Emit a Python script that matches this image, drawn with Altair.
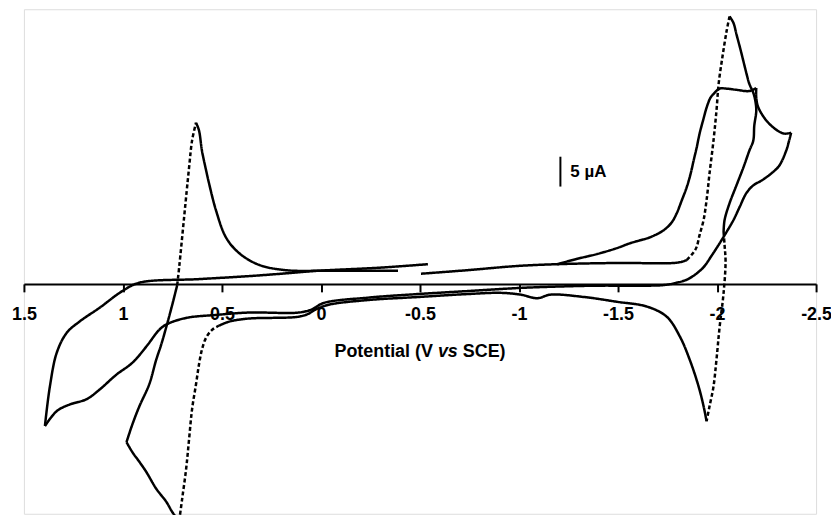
import altair as alt
import pandas as pd

# ---- values: potential E (V vs SCE) and current I (µA) ----
# big anodic/cathodic couple near +0.7 V
decay_E = [0.631, 0.616, 0.601, 0.580, 0.565, 0.530, 0.480, 0.415, 0.314, 0.178, -0.038, -0.389]
decay_I = [27.0, 25.7, 22.3, 19.0, 16.8, 12.3, 7.8, 5.2, 3.2, 2.3, 2.2, 2.2]

rise_E = [0.726, 0.716, 0.691, 0.666, 0.651, 0.631]
rise_I = [-0.2, 2.8, 11.2, 19.5, 24.0, 27.0]

downA_E = [0.726, 0.751, 0.781, 0.807, 0.832, 0.867, 0.917, 0.952, 0.982]
downA_I = [-0.2, -3.5, -7.2, -10.2, -12.7, -16.8, -20.5, -23.5, -26.5]

downB_E = [0.982, 0.952, 0.917, 0.882, 0.832, 0.781, 0.751, 0.726, 0.716]
downB_I = [-26.5, -28.2, -29.8, -31.5, -34.3, -36.5, -38.2, -39.3, -39.7]

valley1_E = [0.716, 0.701, 0.681, 0.666, 0.651, 0.631, 0.616, 0.601, 0.580, 0.550, 0.515]
valley1_I = [-39.7, -36.0, -31.0, -26.0, -21.0, -16.8, -13.5, -11.0, -9.0, -7.7, -7.0]

lower_E = [0.515, 0.480, 0.450, 0.364, 0.113, 0.063, 0.028, -0.038, -0.239, -0.490, -0.741,
           -0.907, -1.008, -1.093, -1.158, -1.329, -1.495, -1.646, -1.746, -1.812, -1.862,
           -1.907, -1.932, -1.947]
lower_I = [-7.0, -6.5, -6.2, -5.8, -5.5, -5.0, -4.3, -3.5, -2.7, -2.2, -1.7,
           -1.5, -1.8, -2.4, -1.8, -2.2, -3.0, -3.8, -5.5, -8.8, -12.7,
           -17.2, -20.5, -23.0]

# couple near -2 V
valley2_E = [-2.033, -2.038, -2.043, -2.033, -2.013, -1.997, -1.982, -1.962, -1.947]
valley2_I = [8.7, 6.5, 3.7, -1.5, -7.2, -12.7, -17.2, -20.5, -23.0]

peakback_E = [-2.063, -2.083, -2.098, -2.118, -2.133, -2.148, -2.163, -2.183, -2.193, -2.198,
              -2.188, -2.183, -2.163, -2.133, -2.098, -2.063, -2.038, -2.033]
peakback_I = [44.8, 43.7, 41.8, 39.3, 37.3, 35.3, 33.5, 32.0, 30.7, 29.0,
              26.5, 24.0, 22.3, 19.5, 16.5, 13.5, 10.7, 8.7]

peakrise_E = [-1.847, -1.882, -1.897, -1.912, -1.932, -1.947, -1.962, -1.982, -1.997, -2.008,
              -2.028, -2.048, -2.063]
peakrise_I = [4.0, 5.3, 6.2, 8.2, 10.7, 14.0, 18.5, 24.0, 29.0, 33.5, 38.2, 42.3, 44.8]

base_E = [-0.505, -0.741, -0.992, -1.193, -1.495, -1.781, -1.822, -1.847]
base_I = [1.7, 2.3, 3.0, 3.3, 3.5, 3.5, 3.7, 4.0]

plateau_E = [-1.193, -1.294, -1.394, -1.495, -1.560, -1.611, -1.661, -1.731, -1.771, -1.796,
             -1.822, -1.847, -1.867, -1.882, -1.897, -1.912, -1.932, -1.947, -1.967, -1.982,
             -2.013, -2.048, -2.098, -2.163, -2.198]
plateau_I = [3.3, 4.2, 5.0, 6.0, 6.8, 7.3, 7.8, 9.0, 10.3, 11.8,
             14.0, 16.2, 18.5, 20.7, 22.8, 25.2, 27.7, 29.5, 31.2, 31.8,
             32.7, 32.7, 32.5, 32.3, 32.8]

notch_E = [-2.198, -2.198, -2.209, -2.264, -2.334, -2.374]
notch_I = [32.8, 31.2, 29.5, 26.8, 25.2, 25.3]

loop_E = [-2.374, -2.364, -2.349, -2.314, -2.274, -2.224, -2.183, -2.148, -2.113, -2.083, -2.048,
          -2.013, -1.972, -1.932, -1.887, -1.847, -1.796, -1.731,
          -1.595, -1.394, -1.143, -0.992, -0.741, -0.490, -0.239, -0.013, 0.048, 0.113,
          0.364, 0.530, 0.681, 0.781, 0.817, 0.882, 0.952, 1.033, 1.118, 1.183, 1.269,
          1.334, 1.394]
loop_I = [25.3, 24.0, 22.3, 19.8, 18.5, 17.3, 16.5, 15.2, 12.8, 10.7, 8.7,
          6.8, 4.7, 2.8, 1.5, 0.7, 0.2, -0.2,
          -0.3, -0.3, -0.5, -0.7, -1.2, -1.7, -2.3, -3.2, -4.3, -4.8,
          -4.8, -5.2, -5.7, -6.8, -7.7, -10.5, -13.2, -15.2, -17.7, -19.3, -20.2,
          -21.3, -23.8]

left_E = [-0.540, -0.289, 0.013, 0.163, 0.364, 0.616, 0.917, 1.003, 1.118, 1.219, 1.284,
          1.334, 1.369, 1.394]
left_I = [3.3, 2.7, 2.2, 1.8, 1.3, 0.8, 0.2, -1.2, -4.0, -6.3, -8.2, -11.5, -17.2, -23.8]

tick_values = [1.5, 1, 0.5, 0, -0.5, -1, -1.5, -2, -2.5]

bar_E = [-1.209]
bar_lo = [16.3]
bar_hi = [21.3]
bar_text = ["5 µA"]
bar_text_E = [-1.259]
bar_text_I = [18.8]

title_parts = ["Potential (V", "vs", "SCE)"]

segments = [
    ("decay", "solid", decay_E, decay_I),
    ("rise", "dashed", rise_E, rise_I),
    ("downA", "solid", downA_E, downA_I),
    ("downB", "solid", downB_E, downB_I),
    ("valley1", "dashed", valley1_E, valley1_I),
    ("lower", "solid", lower_E, lower_I),
    ("valley2", "dashed", valley2_E, valley2_I),
    ("peakback", "solid", peakback_E, peakback_I),
    ("peakrise", "dashed", peakrise_E, peakrise_I),
    ("base", "solid", base_E, base_I),
    ("plateau", "solid", plateau_E, plateau_I),
    ("notch", "solid", notch_E, notch_I),
    ("loop", "solid", loop_E, loop_I),
    ("left", "solid", left_E, left_I),
]

rows = []
for name, style, es, cs in segments:
    for k, (e, c) in enumerate(zip(es, cs)):
        rows.append({"seg": name, "style": style, "k": k, "E": e, "I": c})
df = pd.DataFrame(rows)

FONT = "Liberation Sans"
x_scale = alt.Scale(domain=[-2.5, 1.5], reverse=True, nice=False, zero=False)
y_scale = alt.Scale(domain=[-38.5, 46], nice=False, zero=False)

lines = alt.Chart(df).mark_line(color="black", strokeWidth=2.5, strokeJoin="round",
                                interpolate="catmull-rom").encode(
    x=alt.X("E:Q", scale=x_scale, axis=alt.Axis(
        values=tick_values, orient="bottom", offset=-231, title=None, grid=False,
        domainColor="black", domainWidth=2, tickColor="black", tickWidth=2, tickSize=8,
        labelFont=FONT, labelFontSize=18, labelFontWeight="bold", labelColor="black",
        labelPadding=14, labelExpr="datum.value + ''", labelFlush=False, labelOverlap=False)),
    y=alt.Y("I:Q", scale=y_scale, axis=None),
    detail="seg:N",
    order="k:Q",
    strokeDash=alt.StrokeDash("style:N", scale=alt.Scale(domain=["solid", "dashed"],
                              range=[[1, 0], [4, 2.5]]), legend=None),
)

bar = alt.Chart(pd.DataFrame({"E": bar_E, "I": bar_lo, "I2": bar_hi})).mark_rule(
    color="black", strokeWidth=2).encode(x="E:Q", y="I:Q", y2="I2:Q")

bar_label = alt.Chart(pd.DataFrame({"E": bar_text_E, "I": bar_text_I, "t": bar_text})).mark_text(
    align="left", baseline="middle", font=FONT, fontSize=17, fontWeight="bold", color="black"
).encode(x="E:Q", y="I:Q", text="t:N")

TY = 344
t1 = alt.Chart(pd.DataFrame({"t": [title_parts[0]]})).mark_text(
    align="right", baseline="middle", font=FONT, fontSize=18, fontWeight="bold", color="black"
).encode(x=alt.value(411), y=alt.value(TY), text="t:N")
t2 = alt.Chart(pd.DataFrame({"t": [title_parts[1]]})).mark_text(
    align="left", baseline="middle", font=FONT, fontSize=18, fontWeight="bold",
    fontStyle="italic", color="black"
).encode(x=alt.value(416), y=alt.value(TY), text="t:N")
t3 = alt.Chart(pd.DataFrame({"t": [title_parts[2]]})).mark_text(
    align="left", baseline="middle", font=FONT, fontSize=18, fontWeight="bold", color="black"
).encode(x=alt.value(441), y=alt.value(TY), text="t:N")

chart = alt.layer(lines, bar, bar_label, t1, t2, t3).properties(
    width=796, height=507,
    autosize=alt.AutoSizeParams(type="none"),
    padding={"left": 16, "top": 0, "right": 15, "bottom": 0},
).configure_view(stroke=None).configure(background="white")

chart.save("out.html", embed_options={"renderer": "svg", "actions": False})
